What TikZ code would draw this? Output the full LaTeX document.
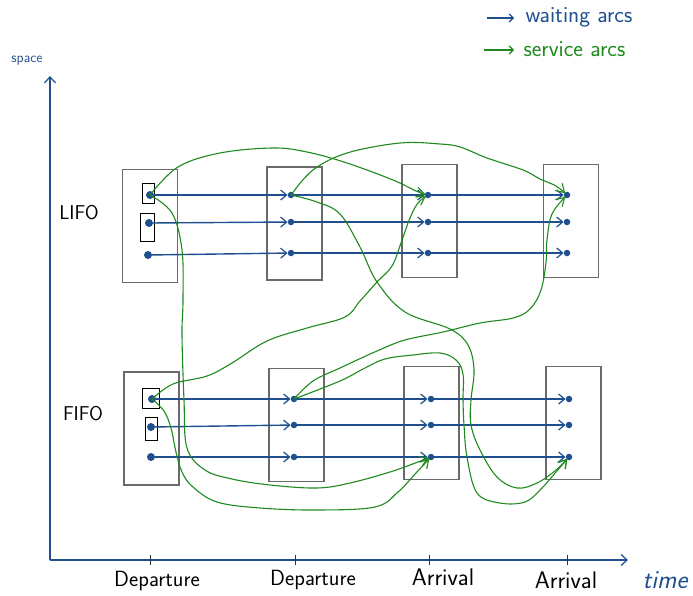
\documentclass[tikz,border=0pt]{standalone}
\usetikzlibrary{arrows.meta}
\definecolor{wblue}{HTML}{1F4F8F}
\definecolor{sgreen}{HTML}{1E8A1E}
\definecolor{boxgray}{HTML}{6A6A6A}
\begin{document}
\begin{tikzpicture}[x=1pt,y=-1pt,
  stage/.style={draw=boxgray,line width=1.4pt,minimum width=55pt,minimum height=113pt,inner sep=0pt},
  dot/.style={circle,fill=wblue,inner sep=0pt,minimum size=6.5pt},
  hsquare/.style={draw=black,line width=0.9pt,inner sep=0pt,minimum width=12pt,minimum height=20pt},
  wait/.style={draw=wblue,line width=1.4pt,-{Straight Barb[length=6pt,width=10pt,line width=1.2pt]}},
  svc/.style={draw=sgreen,line width=1.1pt,-{Straight Barb[length=8pt,width=10pt,line width=1.1pt]},shorten >=2.5pt},
  axis/.style={draw=wblue,line width=1.4pt,-{Straight Barb[length=6pt,width=11pt,line width=1.2pt]}},
  lab/.style={font=\sffamily\fontsize{22}{24}\selectfont},
  leg/.style={font=\sffamily\fontsize{23}{25}\selectfont,anchor=west},
  tickline/.style={draw=black!80,line width=1pt}]
\useasboundingbox (0,0) rectangle (693,595);
% axes
\coordinate (O) at (50,560);
\coordinate (Ytop) at (50,76);
\coordinate (Xend) at (628,560);
\draw[axis] (O) -- (Ytop);
\draw[axis] (O) -- (Xend);
\node[font=\sffamily\fontsize{14}{15}\selectfont,text=wblue] (space) at (27,61) {space};
\node[font=\sffamily\itshape\fontsize{26}{28}\selectfont,text=wblue] (time) at (665,580) {time};
% ticks
\foreach \t/\x in {t1/150,t2/295,t3/429,t4/567}{
  \coordinate (\t a) at (\x,555); \coordinate (\t b) at (\x,565);
  \draw[tickline] (\t a) -- (\t b);}
\node[lab] (dep1) at (157,581) {Departure};
\node[lab] (dep2) at (313,580) {Departure};
\node[lab,font=\sffamily\fontsize{24}{26}\selectfont] (arr1) at (443,577) {Arrival};
\node[lab,font=\sffamily\fontsize{24}{26}\selectfont] (arr2) at (566,580) {Arrival};
\node[lab,font=\sffamily\fontsize{20}{22}\selectfont] (lifo) at (79,213) {LIFO};
\node[lab,font=\sffamily\fontsize{20}{22}\selectfont] (fifo) at (83,414) {FIFO};
% legend
\coordinate (lw1) at (487,18); \coordinate (lw2) at (514,18);
\coordinate (ls1) at (484,50); \coordinate (ls2) at (514,50);
\draw[draw=wblue,line width=1.2pt,-{Straight Barb[length=4pt,width=8pt]}] (lw1) -- (lw2);
\draw[draw=sgreen,line width=1.2pt,-{Straight Barb[length=4pt,width=8pt]}] (ls1) -- (ls2);
\node[leg,text=wblue] (lwt) at (522,17) {waiting arcs};
\node[leg,text=sgreen] (lst) at (520,49) {service arcs};
% boxes
\node[stage] (B1) at (150,226) {};
\node[stage] (B2) at (294.5,223.5) {};
\node[stage] (B3) at (429.5,221) {};
\node[stage] (B4) at (571,221) {};
\node[stage] (B5) at (151.5,428.5) {};
\node[stage] (B6) at (296.5,425) {};
\node[stage] (B7) at (431.5,423) {};
\node[stage] (B8) at (573.5,423) {};
% small hand squares
\node[hsquare] (m1) at (148.5,193) {};
\node[hsquare,minimum height=28pt,minimum width=14pt] (m2) at (147.5,227) {};
\node[hsquare,minimum width=17pt] (m3) at (151,398) {};
\node[hsquare,minimum height=23pt] (m4) at (151.5,428.5) {};
% dots LIFO
\node[dot,minimum height=8pt] (L11) at (150,195) {};
\node[dot,minimum height=8pt] (L12) at (149,223) {};
\node[dot,minimum height=8pt] (L13) at (148,255) {};
\foreach \c/\x in {2/291,3/428,4/567}{
  \node[dot] (L\c1) at (\x,195) {};
  \node[dot] (L\c2) at (\x,222) {};
  \node[dot] (L\c3) at (\x,253) {};}
% dots FIFO
\node[dot,minimum height=8pt] (F11) at (152,399) {};
\node[dot,minimum height=8pt] (F12) at (151,427) {};
\node[dot,minimum height=8pt] (F13) at (151,457) {};
\foreach \c/\x in {2/294,3/431,4/569}{
  \node[dot] (F\c1) at (\x,399) {};
  \node[dot] (F\c2) at (\x,425) {};
  \node[dot] (F\c3) at (\x,457) {};}
% waiting arcs
\foreach \r in {1,2,3}{
  \draw[wait] (L1\r) -- (L2\r);
  \draw[wait] (L2\r) -- (L3\r);
  \draw[wait] (L3\r) -- (L4\r);
  \draw[wait] (F1\r) -- (F2\r);
  \draw[wait] (F2\r) -- (F3\r);
  \draw[wait] (F3\r) -- (F4\r);}
% service arcs
\draw[svc] plot[smooth,tension=0.6] coordinates {(L11) (178,167) (220,153) (273,148) (307,152) (347,163) (393,180) (416,191) (L31)};
\draw[svc] plot[smooth,tension=0.6] coordinates {(L11) (172,213) (182,250) (183,300) (182,335) (184,400) (187,448) (205,470) (232,479) (270,485) (317,488) (350,483) (390,472) (418,462) (F33)};
\draw[svc] plot[smooth,tension=0.6] coordinates {(F11) (173,384) (207,376) (232,363) (267,341) (307,328) (345,317) (360,301) (377,282) (392,266) (401,243) (410,218) (418,203) (L31)};
\draw[svc] plot[smooth,tension=0.6] coordinates {(F11) (164,411) (171,428) (176,452) (182,472) (193,487) (217,502) (260,508) (317,510) (375,507) (398,492) (416,473) (F33)};
\draw[svc] plot[smooth,tension=0.6] coordinates {(L21) (313,170) (347,153) (400,143) (440,144) (460,147) (487,158) (523,170) (540,179) (556,186) (L41)};
\draw[svc] plot[smooth,tension=0.6] coordinates {(L21) (317,202) (340,214) (360,247) (377,282) (405,312) (450,329) (468,345) (474,370) (471,400) (471,425) (480,450) (497,477) (517,488) (537,483) (556,470) (F43)};
\draw[svc] plot[smooth,tension=0.6] coordinates {(F21) (313,381) (340,368) (377,351) (405,340) (443,332) (480,323) (513,318) (530,309) (541,290) (546,262) (547,240) (552,214) (L41)};
\draw[svc] plot[smooth,tension=0.6] coordinates {(F21) (340,381) (363,369) (385,359) (413,355) (440,353) (456,360) (463,374) (463,400) (464,425) (467,457) (477,493) (500,503) (525,502) (541,489) (556,472) (F43)};
\end{tikzpicture}
\end{document}
